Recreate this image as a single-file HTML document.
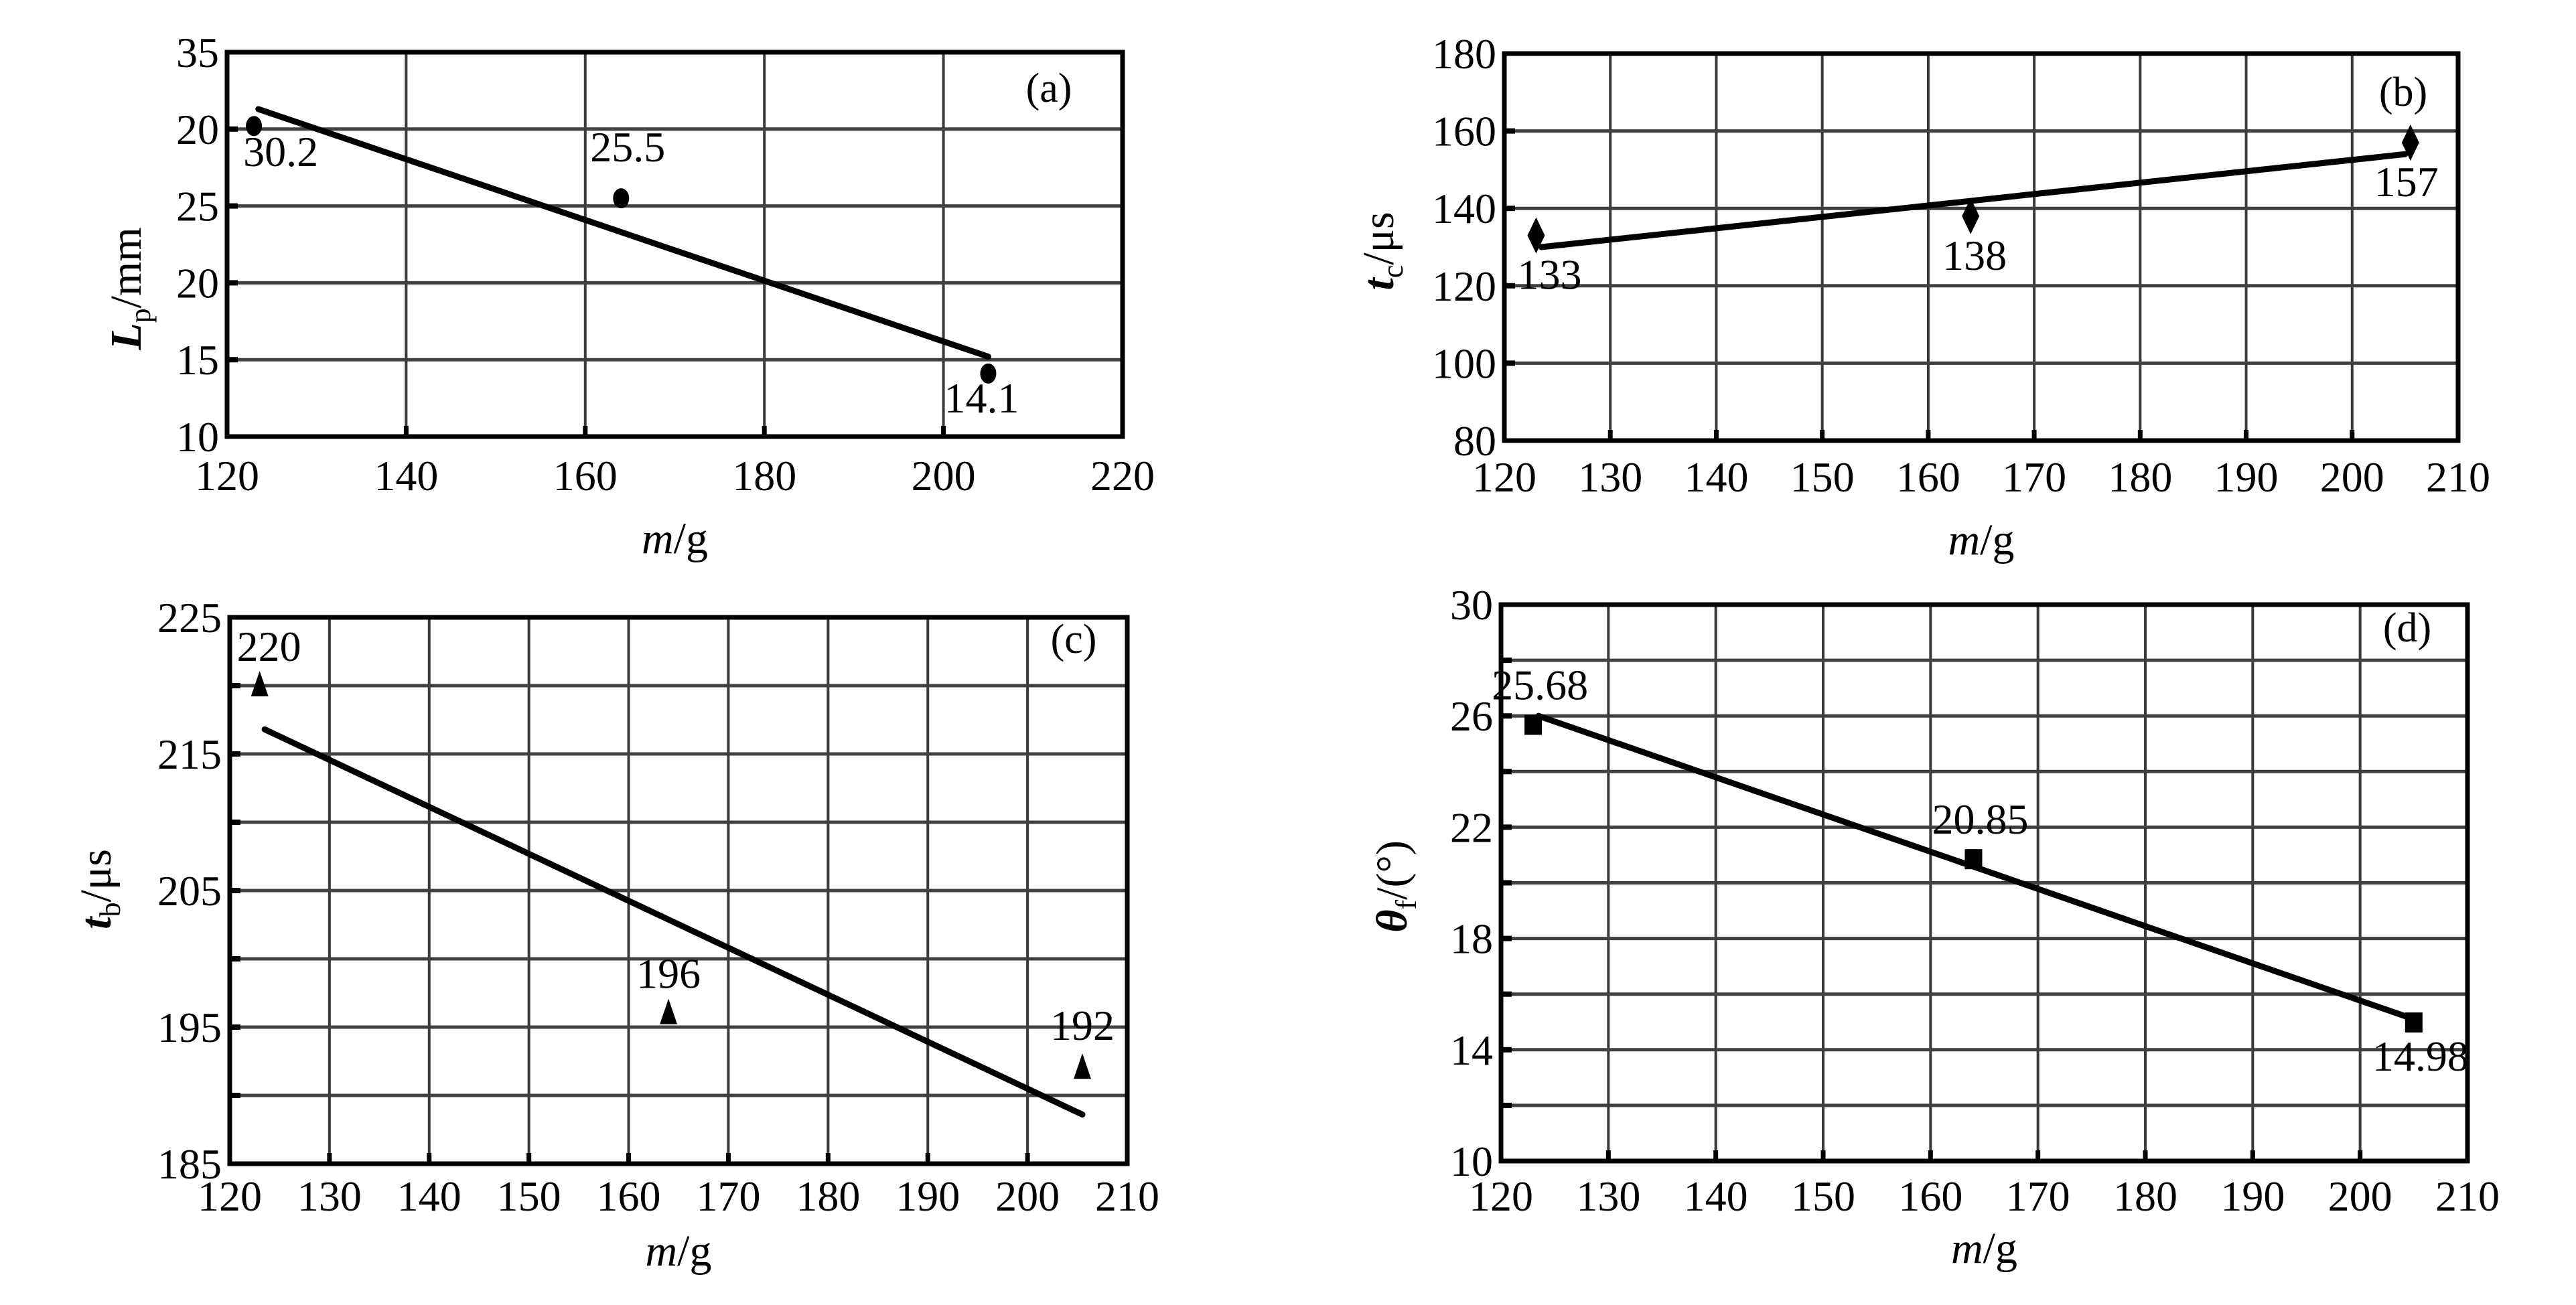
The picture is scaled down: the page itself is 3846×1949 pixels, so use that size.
<!DOCTYPE html>
<html><head><meta charset="utf-8">
<style>
html,body{margin:0;padding:0;background:#fff;}
svg{display:block;}
svg text{font-family:"Liberation Serif","DejaVu Serif","Noto Serif CJK SC",serif !important;fill:#000;}
</style></head>
<body>
<svg id="fig" width="3846" height="1949" viewBox="0 0 3846 1949" xmlns="http://www.w3.org/2000/svg" font-family="Liberation Serif, DejaVu Serif, serif"></svg>
<script>
// Panel (a)
const aX = [123, 164, 205];
const aY = [30.2, 25.5, 14.1];
const aLabels = ["30.2", "25.5", "14.1"];
const aFitX = [123.5, 205];
const aFitY = [31.3, 15.2];
const aYTicks = [10, 15, 20, 25, 30, 35];
const aYTickLabels = ["10", "15", "20", "25", "20", "35"];
const aXTicks = [120, 140, 160, 180, 200, 220];
// Panel (b)
const bX = [123, 164, 205.5];
const bY = [133, 138, 157];
const bLabels = ["133", "138", "157"];
const bFitX = [123.5, 205];
const bFitY = [130, 154];
const bYTicks = [80, 100, 120, 140, 160, 180];
const bXTicks = [120, 130, 140, 150, 160, 170, 180, 190, 200, 210];
// Panel (c)
const cX = [123, 164, 205.5];
const cY = [220, 196, 192];
const cLabels = ["220", "196", "192"];
const cFitX = [123.5, 205.5];
const cFitY = [216.8, 188.6];
const cYTicks = [185, 195, 205, 215, 225];
const cYGrid = [185, 190, 195, 200, 205, 210, 215, 220, 225];
const cXTicks = [120, 130, 140, 150, 160, 170, 180, 190, 200, 210];
// Panel (d)
const dX = [123, 164, 205];
const dY = [25.68, 20.85, 14.98];
const dLabels = ["25.68", "20.85", "14.98"];
const dFitX = [123.5, 205];
const dFitY = [26.0, 15.1];
const dYTicks = [10, 14, 18, 22, 26, 30];
const dYGrid = [10, 12, 14, 16, 18, 20, 22, 24, 26, 28, 30];
const dXTicks = [120, 130, 140, 150, 160, 170, 180, 190, 200, 210];

const NS = "http://www.w3.org/2000/svg";
const FONT = "Liberation Serif, DejaVu Serif, serif";
const fig = document.getElementById("fig");
function mk(tag, attrs, parent) {
  const e = document.createElementNS(NS, tag);
  for (const k in attrs) e.setAttribute(k, attrs[k]);
  if (tag === "text") e.setAttribute("font-family", FONT);
  (parent || fig).appendChild(e);
  return e;
}

function panel(cfg) {
  const g = mk("g", {});
  
  
  const sx = v => cfg.L + (v - cfg.x0) / (cfg.x1 - cfg.x0) * (cfg.R - cfg.L);
  const sy = v => cfg.B - (v - cfg.y0) / (cfg.y1 - cfg.y0) * (cfg.B - cfg.T);
  cfg.xTicks.forEach(v => {
    const x = sx(v);
    if (v > cfg.x0 && v < cfg.x1) {
      const l = mk("line", {x1: x, x2: x, y1: cfg.T, y2: cfg.B, stroke: "#3a3a3a", "stroke-width": 4}, g);
      
      
      const t = mk("line", {x1: x, x2: x, y1: cfg.B, y2: cfg.B - 16, stroke: "#000", "stroke-width": 7}, g);
      
      
    }
    const tl = mk("text", {x: x, y: cfg.xLabelY, "font-size": 64, "text-anchor": "middle"}, g);
    tl.textContent = String(v);
    
    
  });
  cfg.yGrid.forEach(v => {
    const y = sy(v);
    if (v > cfg.y0 && v < cfg.y1) {
      const l = mk("line", {x1: cfg.L, x2: cfg.R, y1: y, y2: y, stroke: "#404040", "stroke-width": 5}, g);
      
      
      const t = mk("line", {x1: cfg.L, x2: cfg.L + 16, y1: y, y2: y, stroke: "#000", "stroke-width": 8}, g);
      
      
    }
  });
  cfg.yTicks.forEach((v, i) => {
    const y = sy(v);
    const tl = mk("text", {x: cfg.L - 12, y: y + 22, "font-size": 64, "text-anchor": "end"}, g);
    tl.textContent = cfg.yTickLabels ? cfg.yTickLabels[i] : String(v);
    
    
  });
  const fr = mk("rect", {x: cfg.L, y: cfg.T, width: cfg.R - cfg.L, height: cfg.B - cfg.T, fill: "none", stroke: "#000", "stroke-width": 7}, g);
  
  
  const fl = mk("line", {x1: sx(cfg.fitX[0]), y1: sy(cfg.fitY[0]), x2: sx(cfg.fitX[1]), y2: sy(cfg.fitY[1]), stroke: "#000", "stroke-width": 9, "stroke-linecap": "round"}, g);
  
  
  cfg.xs.forEach((xv, i) => {
    const x = sx(xv), y = sy(cfg.ys[i]);
    let m;
    if (cfg.marker === "circle") m = mk("ellipse", {cx: x, cy: y, rx: 12, ry: 15, fill: "#000"}, g);
    else if (cfg.marker === "diamond") m = mk("polygon", {points: `${x},${y-27} ${x+13},${y} ${x},${y+27} ${x-13},${y}`, fill: "#000"}, g);
    else if (cfg.marker === "triangle") m = mk("polygon", {points: `${x},${y-22} ${x+13},${y+16} ${x-13},${y+16}`, fill: "#000"}, g);
    else m = mk("rect", {x: x - 13, y: y - 15, width: 26, height: 30, fill: "#000"}, g);
    
    
    const t = mk("text", {x: x + cfg.labOff[i][0], y: y + cfg.labOff[i][1], "font-size": 64, "text-anchor": "middle"}, g);
    t.textContent = cfg.labels[i];
    
    
  });
  const pl = mk("text", {x: cfg.letterX, y: cfg.letterY, "font-size": 62, "text-anchor": "middle"}, g);
  pl.textContent = "(" + cfg.id + ")";
  
  
  const xt = mk("text", {x: (cfg.L + cfg.R) / 2, y: cfg.xTitleY, "font-size": 66, "text-anchor": "middle"}, g);
  xt.innerHTML = '<tspan font-style="italic">m</tspan>/g';
  
  
  const yt = mk("text", {x: 0, y: 0, "font-size": 66, "text-anchor": "middle", transform: `translate(${cfg.yTitleX},${cfg.yTitleY}) rotate(-90)`}, g);
  yt.innerHTML = cfg.yTitle;
  
  
}

panel({id: "a", L: 339, R: 1676, T: 78, B: 652, x0: 120, x1: 220, y0: 10, y1: 35,
  xTicks: aXTicks, yTicks: aYTicks, yTickLabels: aYTickLabels, yGrid: aYTicks,
  xs: aX, ys: aY, labels: aLabels, fitX: aFitX, fitY: aFitY, marker: "circle",
  labOff: [[40, 60], [10, -55], [-10, 58]],
  letterX: 1566, letterY: 152, xLabelY: 732, xTitleY: 826, yTitleX: 210, yTitleY: 431,
  yTitle: '<tspan font-style="italic" font-weight="bold">L</tspan><tspan font-size="44" dy="14">p</tspan><tspan dy="-14">/mm</tspan>'});

panel({id: "b", L: 2246, R: 3670, T: 80, B: 658, x0: 120, x1: 210, y0: 80, y1: 180,
  xTicks: bXTicks, yTicks: bYTicks, yGrid: bYTicks,
  xs: bX, ys: bY, labels: bLabels, fitX: bFitX, fitY: bFitY, marker: "diamond",
  labOff: [[20, 80], [6, 80], [-6, 80]],
  letterX: 3588, letterY: 158, xLabelY: 734, xTitleY: 828, yTitleX: 2080, yTitleY: 375,
  yTitle: '<tspan font-style="italic" font-weight="bold">t</tspan><tspan font-size="44" dy="14">c</tspan><tspan dy="-14">/μs</tspan>'});

panel({id: "c", L: 343, R: 1683, T: 922, B: 1738, x0: 120, x1: 210, y0: 185, y1: 225,
  xTicks: cXTicks, yTicks: cYTicks, yGrid: cYGrid,
  xs: cX, ys: cY, labels: cLabels, fitX: cFitX, fitY: cFitY, marker: "triangle",
  labOff: [[14, -37], [0, -38], [0, -42]],
  letterX: 1603, letterY: 975, xLabelY: 1808, xTitleY: 1890, yTitleX: 165, yTitleY: 1328,
  yTitle: '<tspan font-style="italic" font-weight="bold">t</tspan><tspan font-size="44" dy="14">b</tspan><tspan dy="-14">/μs</tspan>'});

panel({id: "d", L: 2241, R: 3684, T: 903, B: 1734, x0: 120, x1: 210, y0: 10, y1: 30,
  xTicks: dXTicks, yTicks: dYTicks, yGrid: dYGrid,
  xs: dX, ys: dY, labels: dLabels, fitX: dFitX, fitY: dFitY, marker: "square",
  labOff: [[10, -38], [10, -38], [10, 72]],
  letterX: 3594, letterY: 958, xLabelY: 1808, xTitleY: 1886, yTitleX: 2100, yTitleY: 1324,
  yTitle: '<tspan font-style="italic" font-weight="bold">θ</tspan><tspan font-size="44" dy="14">f</tspan><tspan dy="-14">/(°)</tspan>'});
</script>
</body></html>
